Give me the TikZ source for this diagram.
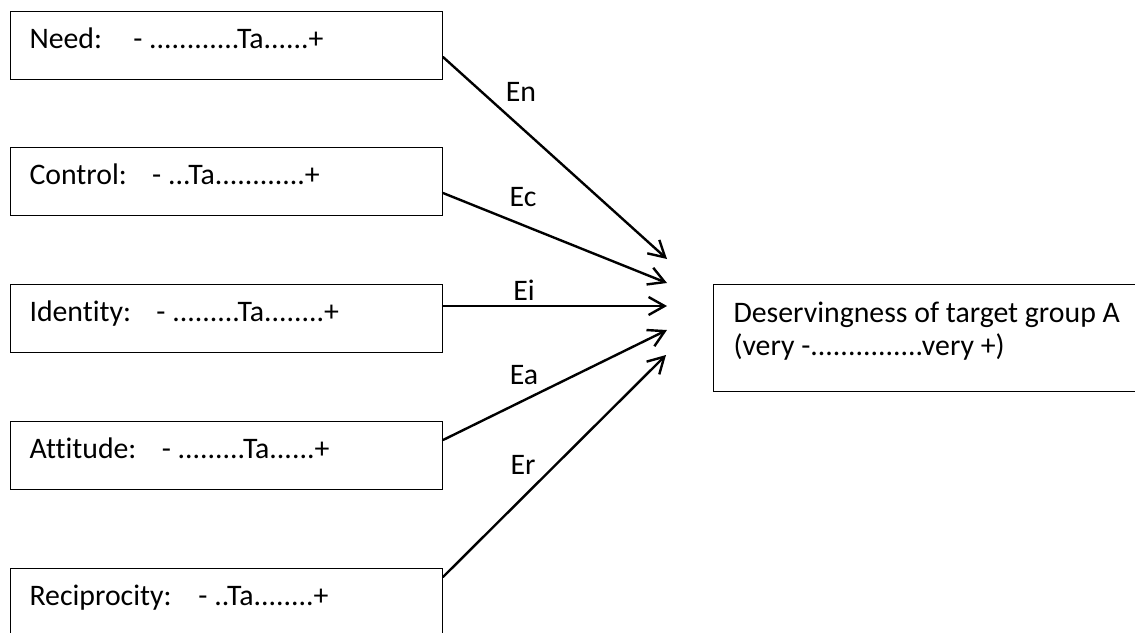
\documentclass[tikz,border=0pt]{standalone}
\usepackage{fontspec}
\setmainfont{Carlito}[Ligatures={NoCommon}]
\usetikzlibrary{positioning}
\usetikzlibrary{arrows.meta}

\begin{document}
\begin{tikzpicture}
    [x=0.5pt, y=-0.5pt,
    factor/.style={draw, line width=0.5pt, anchor=north west, align=flush left, text width=197pt, inner xsep=9.5pt, inner ysep=0pt, text height=18.5pt, text depth=15.5pt},
    outcome/.style={draw, line width=0.5pt, anchor=north west, align=flush left, text width=260pt, inner xsep=10pt, inner ysep=0pt, text height=19pt, text depth=34.5pt},
    effect/.style={inner sep=1pt},
    link/.style={-{Straight Barb[length=8pt, width=9pt]}, line width=1.2pt, line cap=round},
    font=\fontsize{14.9}{16.5}\selectfont]
     \useasboundingbox (0,0) rectangle (1135,632);
     \node[factor] (need) at (10, 11)   {Need:\hspace{1.05em}- ............Ta......+};
     \node[factor] (ctrl) at (10, 147)  {Control:\hspace{0.85em}- ...Ta............+};
     \node[factor] (iden) at (10, 284)  {Identity:\hspace{0.85em}- .........Ta........+};
     \node[factor] (attd) at (10, 421)  {Attitude:\hspace{0.85em}- .........Ta......+};
     \node[factor] (reci) at (10, 568)  {Reciprocity:\hspace{0.9em}- ..Ta........+};
     \node[outcome] (dsrv) at (713, 284) {Deservingness of target group A\\(very -...............very +)};
     \coordinate (tn) at (667, 259);
     \coordinate (tc) at (667, 283);
     \coordinate (ti) at (667, 306);
     \coordinate (ta) at (667, 330);
     \coordinate (tr) at (666, 355);
     \draw[link] (need.east |- 0,57)  -- (tn);
     \draw[link] (ctrl.east |- 0,193) -- (tc);
     \draw[link] (iden.east |- 0,306) -- (ti);
     \draw[link] (attd.east |- 0,440) -- (ta);
     \draw[link] (reci.east |- 0,577) -- (tr);
     \node[effect] (en) at (521, 92)  {En};
     \node[effect] (ec) at (523, 197) {Ec};
     \node[effect] (ei) at (524, 290) {Ei};
     \node[effect] (ea) at (524, 375) {Ea};
     \node[effect] (er) at (523, 465) {Er};
\end{tikzpicture}
\end{document}
